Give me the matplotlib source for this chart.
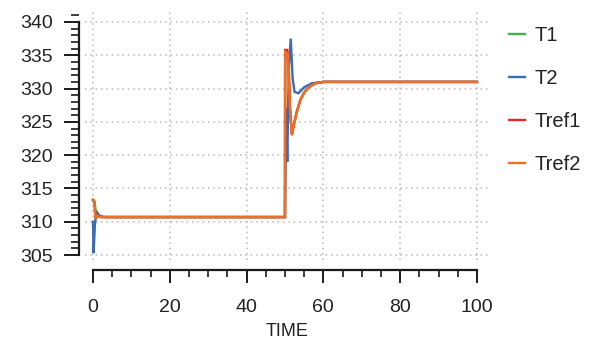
import matplotlib
matplotlib.use("Agg")
import matplotlib.pyplot as plt
from matplotlib.ticker import MultipleLocator

plt.rcParams['font.family'] = ['Liberation Sans', 'DejaVu Sans']

# Simulated temperature responses (time, value)
t_t1 = [0, 0.15, 0.5, 0.9, 1.5, 2.5, 3.5, 50, 50.05, 50.8, 51.3, 51.8, 52.3, 53, 54, 55, 56, 57, 58, 60, 100]
v_t1 = [313.2, 313.1, 312.6, 310.6, 310.9, 310.7, 310.7, 310.7, 335.3, 335.3, 327.5, 323.2, 324.6, 326.4, 328.3, 329.4, 330.1, 330.5, 330.8, 331.0, 331.0]

t_t2 = [0, 0.15, 0.5, 0.9, 1.5, 2.5, 3.5, 50, 50.3, 50.6, 51.0, 51.5, 52.0, 52.5, 53.5, 55, 57, 60, 100]
v_t2 = [310.0, 305.3, 309.5, 311.6, 311.0, 310.75, 310.7, 310.7, 327.0, 319.0, 333.0, 337.5, 331.5, 329.5, 329.3, 330.2, 330.8, 331.0, 331.0]

t_ref1 = [0, 0.4, 0.6, 1.2, 2, 50, 50.05, 50.6, 51.0, 51.3, 51.8, 52.3, 53, 54, 55, 56, 57, 58, 60, 100]
v_ref1 = [313.3, 313.0, 310.5, 310.9, 310.7, 310.7, 335.8, 335.8, 333.0, 327.0, 323.0, 324.5, 326.3, 328.3, 329.4, 330.1, 330.5, 330.8, 331.0, 331.0]

t_ref2 = [0, 0.4, 0.6, 1.2, 2, 50, 50.05, 50.8, 51.3, 51.8, 52.3, 53, 54, 55, 56, 57, 58, 60, 100]
v_ref2 = [313.3, 313.0, 310.5, 310.9, 310.7, 310.7, 335.5, 335.2, 327.0, 323.0, 324.5, 326.3, 328.3, 329.4, 330.1, 330.5, 330.8, 331.0, 331.0]

series_names = ["T1", "T2", "Tref1", "Tref2"]
series_colors = ["#3cb44b", "#3a6cb4", "#e8262a", "#f36d23"]

fig = plt.figure(figsize=(5.98, 3.43), dpi=100)
ax = fig.add_axes([85 / 598, 1 - 260 / 343, 405 / 598, 250 / 343])

for (tt, vv), name, col in zip([(t_t1, v_t1), (t_t2, v_t2), (t_ref1, v_ref1), (t_ref2, v_ref2)],
                               series_names, series_colors):
    ax.plot(tt, vv, color=col, lw=1.7, label=name, solid_joinstyle='miter')

ax.set_xlim(-2.08, 103.4)
ax.set_ylim(304.25, 341.8)

ax.xaxis.set_major_locator(MultipleLocator(20))
ax.xaxis.set_minor_locator(MultipleLocator(5))
ax.yaxis.set_major_locator(MultipleLocator(5))
ax.yaxis.set_minor_locator(MultipleLocator(1))

ax.grid(True, which='major', color='#b8b8b8', linestyle=(0, (1, 2.5)), linewidth=1.1)

for s in ('top', 'right'):
    ax.spines[s].set_visible(False)
ax.spines['left'].set_position(('outward', 4))
ax.spines['bottom'].set_position(('outward', 7.5))
ax.spines['left'].set_bounds(305, 340)
ax.spines['bottom'].set_bounds(0, 100)
for s in ('left', 'bottom'):
    ax.spines[s].set_linewidth(1.6)
    ax.spines[s].set_color('#1a1a1a')

ax.tick_params(axis='y', which='major', length=10.5, width=1.4, pad=8.5, labelsize=14, color='#1a1a1a', labelcolor='#222222')
ax.tick_params(axis='y', which='minor', length=5.5, width=1.2, color='#1a1a1a')
ax.tick_params(axis='x', which='major', length=9.5, width=1.4, pad=11, labelsize=14, color='#1a1a1a', labelcolor='#222222')
ax.tick_params(axis='x', which='minor', length=5, width=1.2, color='#1a1a1a')

ax.set_xlabel("TIME", fontsize=13, color='#222222', labelpad=5)

fig.legend(loc='upper left', bbox_to_anchor=(509 / 598, 1 - 26 / 343), frameon=False,
           fontsize=14.5, handlelength=0.8, handletextpad=0.45, labelspacing=1.2,
           borderpad=0, borderaxespad=0, labelcolor='#222222')

fig.savefig("out.png", dpi=100)
